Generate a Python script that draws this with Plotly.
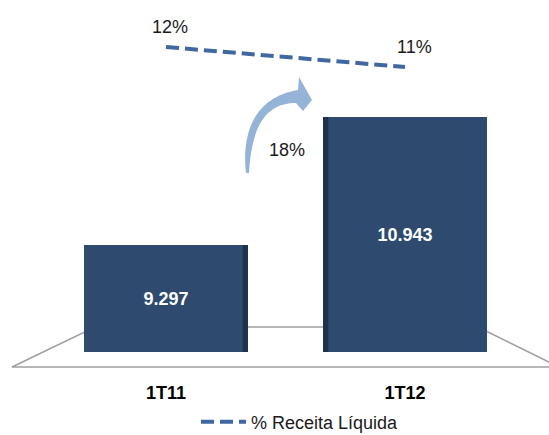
import plotly.graph_objects as go

# ---- data ----
categories = ["1T11", "1T12"]
values = [9297, 10943]
value_labels = ["9.297", "10.943"]
pct_values = [12, 11]
pct_labels = ["12%", "11%"]
growth_label = "18%"
series_name = "% Receita Líquida"

# ---- layout constants (pixels) ----
W, H = 549, 435
M_L, M_R, M_T, M_B = 0, 0, 0, 83
PW = W - M_L - M_R
PH = H - M_T - M_B
FONT = "Arial, Liberation Sans, sans-serif"

Y_MIN, Y_MAX = 7921, 12448
Y2_MIN, Y2_MAX = -3.25, 14.35
X_MIN = -0.6946
X_MAX = X_MIN + PW / 239.0
BAR_W = 0.686

BAR_COLOR = "#2e4a6f"
EDGE_COLOR = "#1b2c44"
LINE_COLOR = "#40679f"


def px(x, y):
    """pixel -> paper coords"""
    return (x - M_L) / PW, (H - M_B - y) / PH


def path_from(cmds):
    out = []
    for c in cmds:
        if isinstance(c, str):
            out.append(c)
        else:
            xp, yp = px(*c)
            out.append(f"{xp:.5f},{yp:.5f}")
    return " ".join(out)


fig = go.Figure()

fig.add_trace(go.Bar(
    x=categories,
    y=[v - Y_MIN for v in values],
    base=Y_MIN,
    width=BAR_W,
    marker=dict(color=BAR_COLOR, line=dict(width=0)),
    text=value_labels,
    textposition="inside",
    insidetextanchor="middle",
    textangle=0,
    textfont=dict(color="white", size=18, family=FONT, weight="bold"),
    showlegend=False,
    hoverinfo="skip",
))

fig.add_trace(go.Scatter(
    x=categories,
    y=pct_values,
    yaxis="y2",
    mode="lines",
    line=dict(color=LINE_COLOR, width=4, dash="13px,6px"),
    name=series_name,
    showlegend=True,
))

# percent labels
for i, (c, v, t) in enumerate(zip(categories, pct_values, pct_labels)):
    fig.add_annotation(x=c, y=v, yref="y2", text=t, showarrow=False,
                       xshift=4 if i == 0 else 9, yshift=20,
                       font=dict(size=18, family=FONT, color="#1a1a1a"))

# 3D side edges on bars
for i, v in enumerate(values):
    if i == 0:
        x0, x1 = i + BAR_W / 2 - 0.022, i + BAR_W / 2
    else:
        x0, x1 = i - BAR_W / 2, i - BAR_W / 2 + 0.022
    fig.add_shape(type="rect", xref="x", yref="y", x0=x0, x1=x1, y0=Y_MIN, y1=v,
                  fillcolor=EDGE_COLOR, line=dict(width=0), layer="above", opacity=0.8)

# floor (perspective plane)
floor = path_from(["M", (12, 367), "L", (95, 327), "L", (478, 327), "L", (559, 367), "Z"])
fig.add_shape(type="path", xref="paper", yref="paper", path=floor,
              fillcolor="white", line=dict(color="#a0a0a0", width=1.5), layer="below")

# curved growth arrow
arrow = path_from([
    "M", (246, 173),
    "C", (242, 140), (250, 98), (298, 90),
    "L", (299, 77),
    "L", (312, 100),
    "L", (303, 111),
    "L", (296, 103),
    "C", (268, 103), (252, 122), (249, 173),
    "Z",
])
fig.add_shape(type="path", xref="paper", yref="paper", path=arrow,
              fillcolor="#95b3d7", line=dict(width=0), layer="above")

gx, gy = px(287, 150)
fig.add_annotation(x=gx, y=gy, xref="paper", yref="paper", text=growth_label,
                   showarrow=False, font=dict(size=18, family=FONT, color="#1a1a1a"))

fig.update_layout(
    width=W, height=H,
    margin=dict(l=M_L, r=M_R, t=M_T, b=M_B, autoexpand=False),
    paper_bgcolor="white", plot_bgcolor="rgba(0,0,0,0)",
    font=dict(family=FONT, color="#000000"),
    xaxis=dict(range=[X_MIN, X_MAX], showgrid=False, zeroline=False, showline=False,
               ticks="outside", ticklen=24, tickcolor="rgba(0,0,0,0)",
               tickfont=dict(size=18, family=FONT, color="#000000", weight="bold")),
    yaxis=dict(range=[Y_MIN, Y_MAX], visible=False),
    yaxis2=dict(range=[Y2_MIN, Y2_MAX], overlaying="y", visible=False),
    legend=dict(orientation="h", x=px(196, 0)[0], xanchor="left",
                y=px(0, 422)[1], yanchor="middle", itemwidth=45,
                font=dict(size=18, family=FONT, color="#1a1a1a"),
                bgcolor="rgba(0,0,0,0)"),
    bargap=0,
)

fig.write_html("out.html")
